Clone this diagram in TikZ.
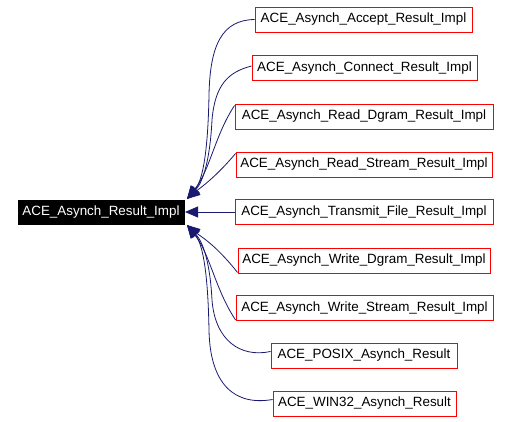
\documentclass[tikz,border=0pt]{standalone}
\usepackage{fontspec}
\setmainfont{Liberation Sans}
\usetikzlibrary{arrows.meta}
\definecolor{edgeblue}{HTML}{191970}
\tikzset{
  child/.style={draw=red, line width=0.9pt, fill=white, inner sep=0pt, minimum height=25pt, font=\fontsize{13.4}{15}\selectfont},
  mainbox/.style={draw=black, fill=black, text=white, inner sep=0pt, minimum height=24pt, minimum width=166pt, font=\fontsize{13.4}{15}\selectfont},
  edge/.style={draw=edgeblue, line width=0.8pt, -{Triangle[length=13pt,width=11pt]}}
}
\begin{document}
\begin{tikzpicture}[x=1pt,y=-1pt]
\useasboundingbox (0,0) rectangle (512,422);
\node[mainbox] (main) at (101,212) {ACE\_Asynch\_Result\_Impl};
\node[child, minimum width=217pt] (c1) at (363.5,19.5) {ACE\_Asynch\_Accept\_Result\_Impl};
\node[child, minimum width=225pt] (c2) at (364.5,68) {ACE\_Asynch\_Connect\_Result\_Impl};
\node[child, minimum width=258pt] (c3) at (364,116.5) {ACE\_Asynch\_Read\_Dgram\_Result\_Impl};
\node[child, minimum width=256pt] (c4) at (364,164.5) {ACE\_Asynch\_Read\_Stream\_Result\_Impl};
\node[child, minimum width=258pt] (c5) at (364,212) {ACE\_Asynch\_Transmit\_File\_Result\_Impl};
\node[child, minimum width=252pt] (c6) at (364,260.5) {ACE\_Asynch\_Write\_Dgram\_Result\_Impl};
\node[child, minimum width=257pt] (c7) at (364.5,308) {ACE\_Asynch\_Write\_Stream\_Result\_Impl};
\node[child, minimum width=186pt] (c8) at (364,355.5) {ACE\_POSIX\_Asynch\_Result};
\node[child, minimum width=183pt] (c9) at (364.5,403.5) {ACE\_WIN32\_Asynch\_Result};
\coordinate (tu) at (187,199);
\coordinate (tm) at (185,212);
\coordinate (tl) at (187,225);
\draw[edge] (c1.west) .. controls (222,20) and (210,45) .. (209,95) .. controls (208,150) and (203,180) .. (tu);
\draw[edge] ([yshift=2pt]c2.west) .. controls (228,72) and (215,85) .. (212,120) .. controls (210,160) and (203,182) .. (tu);
\draw[edge] ([yshift=11pt]c3.west) .. controls (215,135) and (210,170) .. (tu);
\draw[edge] ([yshift=11pt]c4.west) .. controls (215,178) and (200,188) .. (tu);
\draw[edge] (c5.west) -- (tm);
\draw[edge] ([yshift=-12pt]c6.west) .. controls (215,244) and (200,236) .. (tl);
\draw[edge] ([yshift=-12pt]c7.west) .. controls (215,289) and (210,254) .. (tl);
\draw[edge] ([yshift=4pt]c8.west) .. controls (240,358) and (215,340) .. (212,300) .. controls (210,262) and (203,242) .. (tl);
\draw[edge] ([yshift=4pt]c9.west) .. controls (235,406) and (210,385) .. (209,330) .. controls (208,274) and (203,244) .. (tl);
\end{tikzpicture}
\end{document}
